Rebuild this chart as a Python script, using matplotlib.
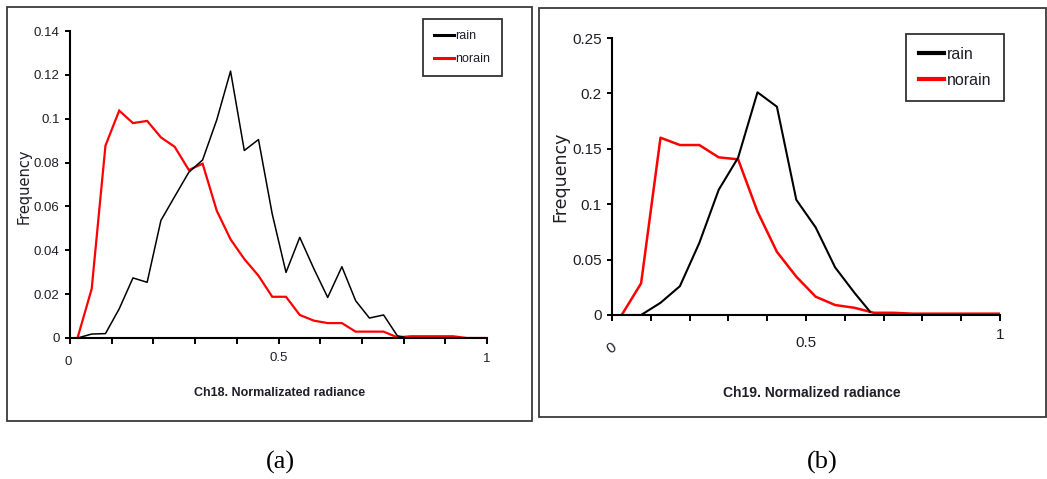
import matplotlib
matplotlib.use("Agg")
import matplotlib.pyplot as plt
from matplotlib.patches import Rectangle
from matplotlib.transforms import ScaledTranslation
from matplotlib.lines import Line2D

# ---------------- data ----------------
rain_a_x = [0.018, 0.052, 0.085, 0.118, 0.151, 0.185, 0.218, 0.251, 0.285, 0.318,
            0.352, 0.385, 0.418, 0.452, 0.485, 0.518, 0.551, 0.585, 0.618, 0.652,
            0.685, 0.718, 0.752, 0.785, 0.800]
rain_a_y = [0.0, 0.0018, 0.002, 0.0133, 0.0274, 0.0254, 0.0536, 0.0645, 0.0756, 0.0812,
            0.0995, 0.1217, 0.0855, 0.0905, 0.0565, 0.0299, 0.0459, 0.0315, 0.0185, 0.0325,
            0.017, 0.0091, 0.0105, 0.001, 0.0005]
norain_a_x = [0.018, 0.052, 0.085, 0.118, 0.151, 0.185, 0.218, 0.251, 0.285, 0.318,
              0.352, 0.385, 0.418, 0.452, 0.485, 0.518, 0.551, 0.585, 0.618, 0.652,
              0.685, 0.718, 0.752, 0.785, 0.818, 0.852, 0.885, 0.918, 0.952, 0.985, 1.0]
norain_a_y = [0.0, 0.0224, 0.0877, 0.1037, 0.098, 0.099, 0.0915, 0.0872, 0.0766, 0.0795,
              0.058, 0.045, 0.036, 0.0284, 0.0188, 0.0188, 0.0105, 0.0079, 0.0068, 0.0068,
              0.0029, 0.0029, 0.0029, 0.0003, 0.0008, 0.0008, 0.0008, 0.0008, 0.0, 0.0, 0.0]

rain_b_x = [0.025, 0.075, 0.125, 0.175, 0.225, 0.275, 0.325, 0.375, 0.425, 0.475,
            0.525, 0.575, 0.625, 0.665]
rain_b_y = [0.0, 0.0, 0.011, 0.026, 0.065, 0.113, 0.142, 0.201, 0.188, 0.104,
            0.079, 0.043, 0.020, 0.003]
norain_b_x = [0.025, 0.075, 0.125, 0.175, 0.225, 0.275, 0.325, 0.375, 0.425, 0.475,
              0.525, 0.575, 0.625, 0.675, 0.725, 0.775, 0.825, 0.875, 0.925, 0.975, 1.0]
norain_b_y = [0.0, 0.0286, 0.160, 0.1534, 0.1534, 0.1423, 0.1405, 0.0933, 0.057, 0.0346,
              0.0165, 0.009, 0.0065, 0.002, 0.002, 0.0012, 0.0012, 0.0012, 0.0012, 0.0012, 0.0012]

series_labels = ["rain", "norain"]
xtick_pos = [0, 0.1, 0.2, 0.3, 0.4, 0.5, 0.6, 0.7, 0.8, 0.9, 1.0]
xtick_labels = ["0", "", "", "", "", "0.5", "", "", "", "", "1"]
yticks_a = [0, 0.02, 0.04, 0.06, 0.08, 0.1, 0.12, 0.14]
yticks_a_labels = ["0", "0.02", "0.04", "0.06", "0.08", "0.1", "0.12", "0.14"]
yticks_b = [0, 0.05, 0.1, 0.15, 0.2, 0.25]
yticks_b_labels = ["0", "0.05", "0.1", "0.15", "0.2", "0.25"]
xlabel_a = "Ch18. Normalizated radiance"
xlabel_b = "Ch19. Normalized radiance"
ylabel = "Frequency"

# ---------------- figure ----------------
W, H = 1047, 479
fig = plt.figure(figsize=(W / 100, H / 100), dpi=100)
fig.patch.set_facecolor("white")

NARROW = ["Liberation Sans Narrow", "Liberation Sans", "DejaVu Sans"]
TXT = "#1e1e28"


def fx(px):
    return px / W


def fy(py):
    return 1 - py / H


# outer frames
fig.patches.append(Rectangle((fx(7), fy(421)), fx(532) - fx(7), fy(7) - fy(421),
                             transform=fig.transFigure, fill=False,
                             edgecolor="#3a3a3a", linewidth=1.3))
fig.patches.append(Rectangle((fx(539), fy(417)), fx(1046) - fx(539), fy(8) - fy(417),
                             transform=fig.transFigure, fill=False,
                             edgecolor="#3a3a3a", linewidth=1.3))


def setup(ax, yticks, ylabels, ysize, lab_offsets, rot0=0):
    ax.set_xlim(0, 1)
    for s in ("top", "right"):
        ax.spines[s].set_visible(False)
    for s in ("left", "bottom"):
        ax.spines[s].set_linewidth(1.5)
        ax.spines[s].set_color("black")
    ax.set_xticks(xtick_pos)
    ax.set_xticklabels(xtick_labels, family=NARROW, fontsize=ysize, color=TXT)
    ax.set_yticks(yticks)
    ax.set_yticklabels(ylabels, family=NARROW, fontsize=ysize, color=TXT)
    ax.tick_params(axis="x", direction="out", length=4, width=1.4, pad=7)
    ax.tick_params(axis="y", direction="out", length=3.5, width=1.4, pad=4)
    labs = [l for l in ax.get_xticklabels() if l.get_text()]
    for l, (dx, dy) in zip(labs, lab_offsets):
        l.set_transform(l.get_transform() +
                        ScaledTranslation(dx / 100, -dy / 100, fig.dpi_scale_trans))
    if rot0:
        labs[0].set_rotation(rot0)
    ax.patch.set_alpha(0)


# ---- panel (a) ----
ax1 = fig.add_axes([fx(70), fy(338), fx(487) - fx(70), fy(31) - fy(338)])
ax1.set_ylim(0, 0.14)
ax1.plot(norain_a_x, norain_a_y, color="#ff0000", lw=1.6, solid_joinstyle="miter")
ax1.plot(rain_a_x, rain_a_y, color="black", lw=1.1)
setup(ax1, yticks_a, yticks_a_labels, 9.5, [(-2, 3), (0, -1), (0, 0)])

fig.text(fx(280), fy(393), xlabel_a, ha="center", va="center",
         family=["Liberation Sans", "DejaVu Sans"], fontweight="bold",
         fontsize=9, color=TXT)
fig.text(fx(24), fy(186), ylabel, ha="center", va="center", rotation=90,
         family=["DejaVu Sans"], fontsize=10.5, color=TXT)

h_a = [Line2D([], [], color="black", lw=2.2), Line2D([], [], color="#ff0000", lw=2.2)]
leg_a = fig.legend(h_a, series_labels, loc="upper left",
                   bbox_to_anchor=(fx(423), fy(19)), bbox_transform=fig.transFigure,
                   prop={"family": NARROW, "size": 9}, handlelength=1.6,
                   handletextpad=0.1, borderpad=0.9, labelspacing=0.85,
                   borderaxespad=0, fancybox=False, framealpha=1,
                   edgecolor="#333333")
leg_a.get_frame().set_linewidth(1.3)
for t in leg_a.get_texts():
    t.set_color(TXT)

# ---- panel (b) ----
ax2 = fig.add_axes([fx(612), fy(315), fx(1000) - fx(612), fy(38) - fy(315)])
ax2.set_ylim(0, 0.25)
ax2.plot(norain_b_x, norain_b_y, color="#ff0000", lw=1.8)
ax2.plot(rain_b_x, rain_b_y, color="black", lw=1.5)
setup(ax2, yticks_b, yticks_b_labels, 11, [(0, 10), (0, 6), (0, -2)], rot0=35)

fig.text(fx(812), fy(393), xlabel_b, ha="center", va="center",
         family=["Liberation Sans", "DejaVu Sans"], fontweight="bold",
         fontsize=10, color=TXT)
fig.text(fx(560), fy(177), ylabel, ha="center", va="center", rotation=90,
         family=["DejaVu Sans"], fontsize=12.5, color=TXT)

h_b = [Line2D([], [], color="black", lw=3), Line2D([], [], color="#ff0000", lw=3)]
leg_b = fig.legend(h_b, series_labels, loc="upper left",
                   bbox_to_anchor=(fx(906), fy(34)), bbox_transform=fig.transFigure,
                   prop={"family": NARROW, "size": 11.5}, handlelength=1.6,
                   handletextpad=0.15, borderpad=0.8, labelspacing=0.7,
                   borderaxespad=0, fancybox=False, framealpha=1,
                   edgecolor="#333333")
leg_b.get_frame().set_linewidth(1.3)
for t in leg_b.get_texts():
    t.set_color(TXT)

# panel captions
fig.text(fx(280), fy(462), "(a)", ha="center", va="center",
         family=["Liberation Serif", "DejaVu Serif"], fontsize=19, color="black")
fig.text(fx(822), fy(462), "(b)", ha="center", va="center",
         family=["Liberation Serif", "DejaVu Serif"], fontsize=19, color="black")

fig.savefig("out.png", dpi=100, facecolor="white")
